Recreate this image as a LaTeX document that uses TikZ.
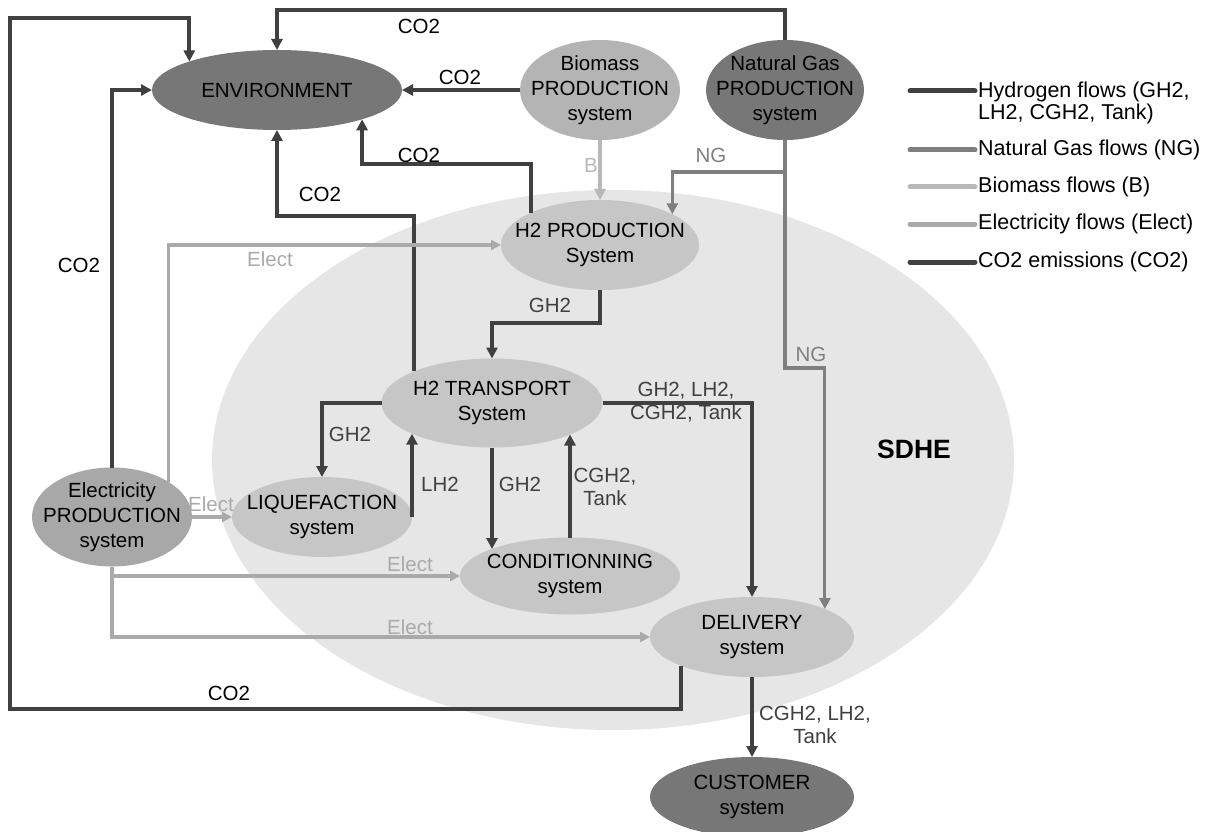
\documentclass[tikz,border=0pt]{standalone}
\usepackage{fontspec}
\setmainfont{Liberation Sans}
\usetikzlibrary{arrows.meta,shapes.geometric}

\definecolor{darkgrey}{HTML}{777777}
\definecolor{biogrey}{HTML}{B4B4B4}
\definecolor{elecgrey}{HTML}{A8A8A8}
\definecolor{sysgrey}{HTML}{C6C6C6}
\definecolor{zonegrey}{HTML}{E6E6E6}
\definecolor{h2col}{HTML}{404040}
\definecolor{ngcol}{HTML}{7F7F7F}
\definecolor{biocol}{HTML}{B8B8B8}
\definecolor{eleccol}{HTML}{AAAAAA}

\begin{document}
\begin{tikzpicture}[
            x = 1pt, y = -1pt, % pixel-like coordinates
            > = {Triangle[length=11pt,width=11pt]}, % arrow head style
            sys/.style = {ellipse, inner sep=-15pt, outer sep=0pt, align=center,
                          font=\fontsize{20.5}{25}\selectfont},
            lab/.style = {inner sep=0pt, align=center, font=\fontsize{20.5}{23}\selectfont},
            legtxt/.style = {inner sep=0pt, anchor=west, align=left, font=\fontsize{21.5}{22}\selectfont},
            legline/.style = {line width=5pt, line cap=round},
            co2/.style = {->, draw=h2col, line width=4pt},
            h2/.style = {->, draw=h2col, line width=4pt},
            ng/.style = {->, draw=ngcol, line width=3.2pt},
            bio/.style = {->, draw=biocol, line width=3.5pt},
            elec/.style = {-{Triangle[length=10pt,width=10pt]}, draw=eleccol, line width=3.2pt}
        ]
\useasboundingbox (0,0) rectangle (1208,832);

% SDHE zone
\fill[zonegrey] (613,460) ellipse [x radius=401, y radius=270];
\node[font=\fontsize{26.5}{27}\selectfont\bfseries] (sdhe) at (914,449) {SDHE};

% systems
\node[sys, fill=darkgrey, minimum width=250pt, minimum height=80pt] (ENV) at (277,90) {ENVIRONMENT};
\node[sys, fill=biogrey, minimum width=160pt, minimum height=100pt] (BIO) at (600,90) {Biomass\\PRODUCTION\\system};
\node[sys, fill=darkgrey, minimum width=158pt, minimum height=100pt] (NGP) at (785,90) {Natural Gas\\PRODUCTION\\system};
\node[sys, fill=sysgrey, minimum width=198pt, minimum height=90pt] (H2P) at (600,245) {H2 PRODUCTION\\System};
\node[sys, fill=sysgrey, minimum width=221pt, minimum height=89pt] (H2T) at (492,403) {H2 TRANSPORT\\System};
\node[sys, fill=sysgrey, minimum width=180pt, minimum height=80pt] (LIQ) at (322,517) {LIQUEFACTION\\system};
\node[sys, fill=elecgrey, minimum width=160pt, minimum height=99pt] (ELEC) at (112,517) {Electricity\\PRODUCTION\\system};
\node[sys, fill=sysgrey, minimum width=220pt, minimum height=77pt] (COND) at (570,576) {CONDITIONNING\\system};
\node[sys, fill=sysgrey, minimum width=204pt, minimum height=80pt] (DEL) at (752,637) {DELIVERY\\system};
\node[sys, fill=darkgrey, minimum width=204pt, minimum height=80pt] (CUST) at (752,797) {CUSTOMER\\system};

% CO2 emissions
\draw[co2] (ELEC.north) |- (ENV.west);
\draw[co2] (DEL.-158) -- ++(0,43) -| (10,18) -| (ENV.162);
\draw[co2] (NGP.north) -- ++(0,-30) -| (ENV.north);
\draw[co2] (BIO.west) -- (ENV.east);
\draw[co2] (H2P.155) -- ++(0,-49) -| (ENV.-19);
\draw[co2] (H2T.158) -- ++(0,-155) -| (ENV.south);

% electricity
\draw[elec] (ELEC.32) |- (H2P.west);
\draw[elec] (ELEC.east) -- (LIQ.west);
\draw[elec] (ELEC.south) |- (COND.west);
\draw[elec] (ELEC.south) |- (DEL.west);

% biomass and natural gas
\draw[bio] (BIO.south) -- (H2P.north);
\draw[ng] (NGP.south) -- ++(0,32) -| (H2P.23);
\draw[ng] (NGP.south) -- ++(0,228) -| (DEL.21);

% hydrogen
\draw[h2] (H2P.south) -- ++(0,33) -| (H2T.north);
\draw[h2] (H2T.west) -| (LIQ.north);
\draw[h2] (LIQ.east) -- (LIQ.east |- H2T.201);
\draw[h2] (H2T.south) -- (H2T.south |- COND.161);
\draw[h2] (COND.north) -- (COND.north |- H2T.-22);
\draw[h2] (H2T.east) -| (DEL.north);
\draw[h2] (DEL.south) -- (CUST.north);

% flow labels
\node[lab, text=black] (lco2top) at (419,26) {CO2};
\node[lab, text=black] (lco2bio) at (460,77) {CO2};
\node[lab, text=black] (lco2h2p) at (419,155) {CO2};
\node[lab, text=black] (lco2h2t) at (320,194) {CO2};
\node[lab, text=black] (lco2elec) at (79,265) {CO2};
\node[lab, text=black] (lco2del) at (229,693) {CO2};
\node[lab, text=eleccol] (lelh2p) at (270,259) {Elect};
\node[lab, text=eleccol] (lelliq) at (211,504) {Elect};
\node[lab, text=eleccol] (lelcond) at (410,564) {Elect};
\node[lab, text=eleccol] (leldel) at (410,627) {Elect};
\node[lab, text=biocol] (lb) at (591,165) {B};
\node[lab, text=ngcol] (lngh2p) at (711,155) {NG};
\node[lab, text=ngcol] (lngdel) at (811,354) {NG};
\node[lab, text=h2col] (lgh2t) at (550,305) {GH2};
\node[lab, text=h2col] (lgh2liq) at (350,434) {GH2};
\node[lab, text=h2col] (llh2) at (440,484) {LH2};
\node[lab, text=h2col] (lgh2cond) at (520,484) {GH2};
\node[lab, text=h2col] (lcgh2) at (605,487) {CGH2,\\Tank};
\node[lab, text=h2col] (lalldel) at (686,402) {GH2, LH2,\\CGH2, Tank};
\node[lab, text=h2col] (lcust) at (815,725) {CGH2, LH2,\\Tank};

% legend
\node[legtxt] (legh2) at (978,103) {Hydrogen flows (GH2,\\LH2, CGH2, Tank)};
\node[legtxt] (legng) at (978,150) {Natural Gas flows (NG)};
\node[legtxt] (legbio) at (978,187) {Biomass flows (B)};
\node[legtxt] (legel) at (978,224) {Electricity flows (Elect)};
\node[legtxt] (legco2) at (978,262) {CO2 emissions (CO2)};
\draw[legline, h2col] (910,91) -- (975,91);
\draw[legline, ngcol] (910,150) -- (975,150);
\draw[legline, biocol] (910,187) -- (975,187);
\draw[legline, eleccol] (910,224) -- (975,224);
\draw[legline, h2col] (910,262) -- (975,262);

\end{tikzpicture}
\end{document}
